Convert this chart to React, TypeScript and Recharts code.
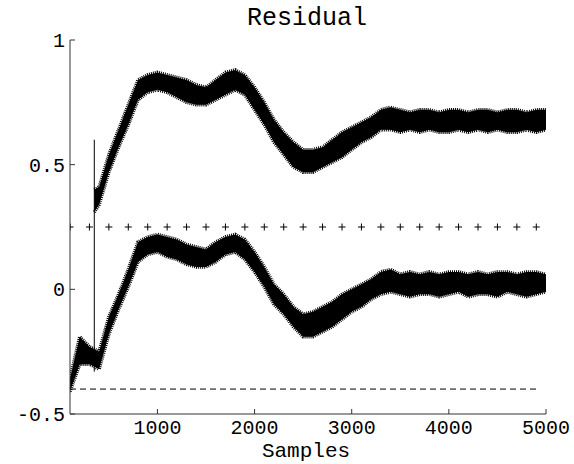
import { ComposedChart, Area, Line, Scatter, XAxis, YAxis } from 'recharts';

// lower residual trace, envelope
const lowerX = [
  100, 200, 300, 400, 500, 600, 700, 800, 900, 1000,
  1100, 1200, 1300, 1400, 1500, 1600, 1700, 1800, 1900, 2000,
  2100, 2200, 2300, 2400, 2500, 2600, 2700, 2800, 2900, 3000,
  3100, 3200, 3300, 3400, 3500, 3600, 3700, 3800, 3900, 4000,
  4100, 4200, 4300, 4400, 4500, 4600, 4700, 4800, 4900, 5000,
];
const lowerMin = [
  -0.41, -0.3, -0.3, -0.32, -0.18, -0.08, 0.01, 0.11, 0.14, 0.15,
  0.13, 0.12, 0.1, 0.09, 0.09, 0.11, 0.14, 0.15, 0.12, 0.07,
  0.01, -0.06, -0.1, -0.15, -0.19, -0.19, -0.17, -0.15, -0.12, -0.09,
  -0.07, -0.04, -0.02, -0.01, -0.02, -0.03, -0.02, -0.02, -0.03, -0.02,
  -0.01, -0.03, -0.02, -0.02, -0.03, -0.01, -0.02, -0.03, -0.02, -0.01,
];
const lowerMax = [
  -0.36, -0.19, -0.23, -0.25, -0.11, -0.02, 0.08, 0.19, 0.21, 0.22,
  0.21, 0.2, 0.18, 0.17, 0.16, 0.19, 0.21, 0.22, 0.2, 0.15,
  0.09, 0.02, -0.02, -0.07, -0.1, -0.09, -0.07, -0.05, -0.02, 0.0,
  0.02, 0.04, 0.07, 0.08, 0.06, 0.07, 0.06, 0.07, 0.06, 0.07,
  0.07, 0.06, 0.07, 0.06, 0.07, 0.07, 0.06, 0.07, 0.07, 0.06,
];

// upper trace, starts after the jump
const upperX = [
  350, 400, 500, 600, 700, 800, 900, 1000,
  1100, 1200, 1300, 1400, 1500, 1600, 1700, 1800, 1900, 2000,
  2100, 2200, 2300, 2400, 2500, 2600, 2700, 2800, 2900, 3000,
  3100, 3200, 3300, 3400, 3500, 3600, 3700, 3800, 3900, 4000,
  4100, 4200, 4300, 4400, 4500, 4600, 4700, 4800, 4900, 5000,
];
const upperMin = [
  0.31, 0.34, 0.47, 0.57, 0.66, 0.76, 0.79, 0.8,
  0.79, 0.77, 0.75, 0.74, 0.74, 0.76, 0.78, 0.8, 0.78, 0.72,
  0.66, 0.59, 0.54, 0.49, 0.47, 0.47, 0.49, 0.51, 0.53, 0.56,
  0.59, 0.61, 0.64, 0.64, 0.63, 0.64, 0.63, 0.64, 0.63, 0.63,
  0.64, 0.63, 0.64, 0.63, 0.64, 0.63, 0.63, 0.64, 0.63, 0.64,
];
const upperMax = [
  0.4, 0.41, 0.54, 0.64, 0.74, 0.84, 0.86, 0.87,
  0.86, 0.85, 0.84, 0.82, 0.81, 0.84, 0.87, 0.88, 0.86, 0.81,
  0.75, 0.68, 0.63, 0.59, 0.56, 0.56, 0.57, 0.6, 0.63, 0.65,
  0.67, 0.69, 0.72, 0.73, 0.72, 0.71, 0.72, 0.72, 0.71, 0.72,
  0.72, 0.71, 0.72, 0.72, 0.71, 0.72, 0.72, 0.71, 0.72, 0.72,
];

// jump marker
const jumpX = [350, 350];
const jumpY = [-0.33, 0.6];

// threshold "+" markers at 0.25
const plusX = [
  100, 300, 500, 700, 900, 1100, 1300, 1500, 1700, 1900, 2100, 2300, 2500,
  2700, 2900, 3100, 3300, 3500, 3700, 3900, 4100, 4300, 4500, 4700, 4900,
];
const plusLevel = 0.25;

// dashed lower bound
const dashX = [100, 4900];
const dashLevel = -0.4;

const xTicks = [1000, 2000, 3000, 4000, 5000];
const yTicks = [-0.5, 0, 0.5, 1];

const FONT = '"Liberation Mono", "DejaVu Sans Mono", monospace';

const lowerData = lowerX.map((x, i) => ({ x, band: [lowerMin[i], lowerMax[i]] }));
const upperData = upperX.map((x, i) => ({ x, band: [upperMin[i], upperMax[i]] }));
const jumpData = jumpX.map((x, i) => ({ x, y: jumpY[i] }));
const plusData = plusX.map((x) => ({ x, y: plusLevel }));
const dashData = dashX.map((x) => ({ x, y: dashLevel }));

const XTick = ({ x, y, payload }: any) => (
  <g>
    <line x1={x} x2={x} y1={y} y2={y - 5} stroke="#333" />
    <text x={x} y={y + 20} textAnchor="middle" fontSize={20} fontFamily={FONT} fill="#000">
      {payload.value}
    </text>
  </g>
);

const YTick = ({ x, y, payload }: any) => (
  <g>
    <line x1={x} x2={x + 5} y1={y} y2={y} stroke="#333" />
    <text x={x - 5} y={y + 7} textAnchor="end" fontSize={20} fontFamily={FONT} fill="#000">
      {payload.value}
    </text>
  </g>
);

const Plus = ({ cx, cy }: any) => (
  <path d={`M${cx - 3.5},${cy}h7M${cx},${cy - 3.5}v7`} stroke="#000" strokeWidth={1} />
);

// short-dashed thick outline roughens the band edge a little
const bandStroke = { stroke: '#000', strokeWidth: 3.5, strokeDasharray: '1 1' };

export default function App() {
  return (
    <div style={{ position: 'absolute', left: 0, top: 0, width: 574, height: 464, background: '#fff' }}>
      <ComposedChart
        width={574}
        height={464}
        margin={{ top: 40, right: 28, bottom: 20, left: 10 }}
      >
        <XAxis
          dataKey="x"
          type="number"
          domain={[100, 5000]}
          ticks={xTicks}
          height={30}
          tickSize={0}
          tickMargin={0}
          tickLine={false}
          axisLine={{ stroke: '#333' }}
          tick={<XTick />}
          allowDataOverflow
        />
        <YAxis
          type="number"
          domain={[-0.5, 1]}
          ticks={yTicks}
          width={60}
          tickSize={0}
          tickMargin={0}
          tickLine={false}
          axisLine={{ stroke: '#333' }}
          tick={<YTick />}
          allowDataOverflow
        />
        <Area
          data={lowerData}
          dataKey="band"
          type="linear"
          {...bandStroke}
          fill="#000"
          fillOpacity={1}
          isAnimationActive={false}
        />
        <Area
          data={upperData}
          dataKey="band"
          type="linear"
          {...bandStroke}
          fill="#000"
          fillOpacity={1}
          isAnimationActive={false}
        />
        <Line
          data={jumpData}
          dataKey="y"
          type="linear"
          stroke="#000"
          strokeWidth={1}
          dot={false}
          isAnimationActive={false}
        />
        <Line
          data={dashData}
          dataKey="y"
          type="linear"
          stroke="#000"
          strokeWidth={1}
          strokeDasharray="6 4"
          dot={false}
          isAnimationActive={false}
        />
        <Scatter data={plusData} dataKey="y" shape={<Plus />} isAnimationActive={false} />
      </ComposedChart>
      <svg
        width={574}
        height={464}
        style={{ position: 'absolute', left: 0, top: 0, pointerEvents: 'none' }}
      >
        <text x={307} y={25} textAnchor="middle" fontSize={25} fontFamily={FONT} fill="#000">
          Residual
        </text>
        <text x={306} y={457} textAnchor="middle" fontSize={21} fontFamily={FONT} fill="#000">
          Samples
        </text>
      </svg>
    </div>
  );
}
